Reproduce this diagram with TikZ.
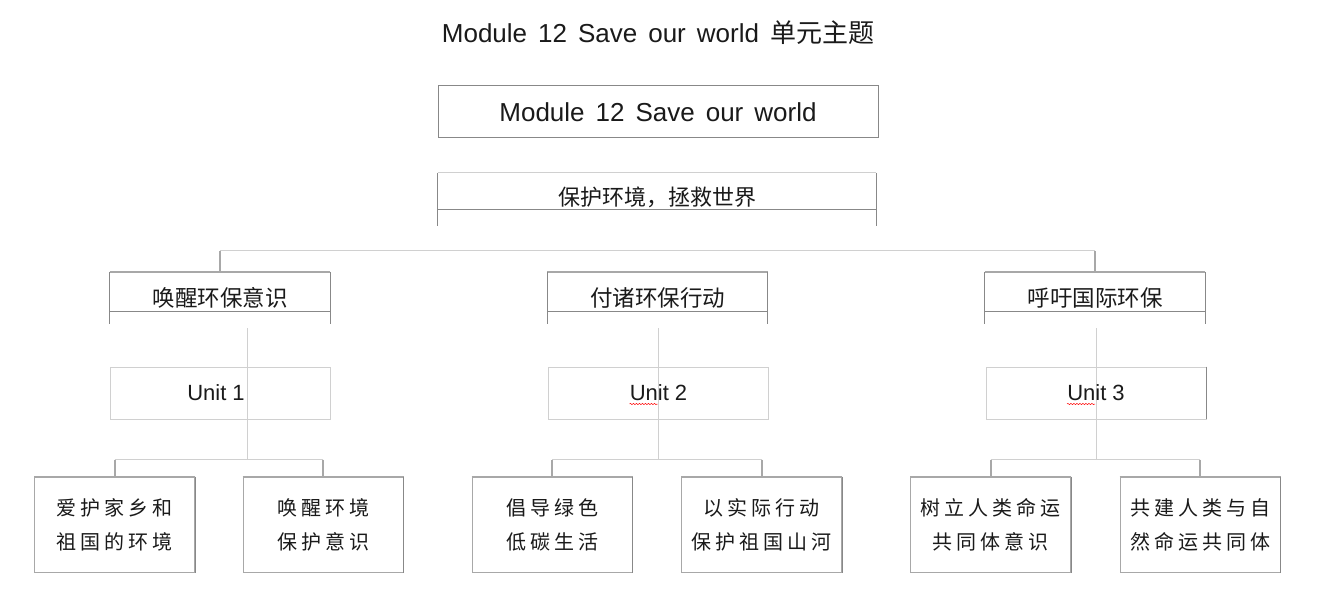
\documentclass[tikz,border=0pt]{standalone}
\usepackage{fontspec}
\setmainfont{Liberation Sans}
\newfontfamily\cjk{Noto Sans CJK SC}
\usetikzlibrary{decorations.pathmorphing}
\definecolor{lineA}{HTML}{D0D0D0}
\definecolor{lineB}{HTML}{A8A8A8}
\definecolor{lineC}{HTML}{888888}
\definecolor{txt}{HTML}{1A1A1A}
\def\lsp#1{\lspaux#1\relax}
\def\lspaux#1#2{#1\ifx#2\relax\else\kern4pt\expandafter\lspaux\expandafter#2\fi}
\newcommand\wsp{\hspace{11pt}}
\tikzset{
  frame/.style={inner sep=0pt, draw=none},
  lvtwo/.style={frame, minimum width=220pt, minimum height=52pt, text=txt, font=\cjk\fontsize{22.5}{26}\selectfont},
  unitbox/.style={frame, minimum width=220pt, minimum height=52pt, draw=lineA, line width=0.8pt, text=txt, font=\fontsize{22}{26}\selectfont},
  leaf/.style={frame, minimum width=160pt, minimum height=95pt, draw=lineB, line width=1pt, align=center, text=txt, font=\cjk\fontsize{20}{34}\selectfont},
  thin/.style={lineA, line width=0.9pt},
  tick/.style={lineB, line width=2pt},
  side/.style={lineC, line width=1pt},
  squiggle/.style={red, line width=0.5pt, decorate, decoration={snake, amplitude=0.6pt, segment length=3pt}}
}
\begin{document}
\begin{tikzpicture}[x=1pt,y=-1pt]
\useasboundingbox (0,0) rectangle (1318,596);
\fill[white] (0,0) rectangle (1318,596);

% title
\node[text=txt, font=\fontsize{26}{30}\selectfont] (title) at (658,33) {Module\wsp 12\wsp Save\wsp our\wsp world\wsp{\cjk 单元主题}};

% module box
\node[frame, draw=lineC, line width=1pt, minimum width=440pt, minimum height=52pt, text=txt, font=\fontsize{26}{30}\selectfont] (module) at (658,112) {Module\wsp 12\wsp Save\wsp our\wsp world};

% theme box
\node[frame, minimum width=438pt, minimum height=53pt] (theme) at (657,199.5) {};
\draw[thin] (theme.north west) -- (theme.north east);
\draw[side] (theme.north west) -- (theme.south west);
\draw[lineC, line width=1.2pt] (theme.north east) -- (theme.south east);
\draw[side] ([yshift=17pt]theme.south west) -- ([yshift=17pt]theme.south east);
\node[text=txt, font=\cjk\fontsize{22}{26}\selectfont] (themetxt) at (657,197) {保护环境，拯救世界};

% level two
\node[lvtwo] (l1) at (220,298) {唤醒环保意识};
\node[lvtwo] (l2) at (657.5,298) {付诸环保行动};
\node[lvtwo] (l3) at (1095,298) {呼吁国际环保};
\foreach \n in {l1,l2,l3}{
  \draw[tick] (\n.north west) -- (\n.north east);
  \draw[side] (\n.north west) -- (\n.south west);
  \draw[side] (\n.north east) -- (\n.south east);
  \draw[side] ([yshift=13pt]\n.south west) -- ([yshift=13pt]\n.south east);
}
\draw[thin] ([yshift=21pt]l1.north) -- ([yshift=21pt]l3.north);
\draw[tick] ([yshift=21pt]l1.north) -- (l1.north);
\draw[tick] ([yshift=21pt]l3.north) -- (l3.north);

% vertical stems
\coordinate (s1t) at (247,328);  \coordinate (s1b) at (247,460);
\coordinate (s2t) at (658,328);  \coordinate (s2b) at (658,460);
\coordinate (s3t) at (1096,328); \coordinate (s3b) at (1096,460);
\draw[thin] (s1t) -- (s1b);
\draw[thin] (s2t) -- (s2b);
\draw[thin] (s3t) -- (s3b);

% unit boxes
\node[unitbox] (u1) at (220,393) {\hspace*{-8pt}Unit 1};
\node[unitbox] (u2) at (658.5,393) {Unit 2};
\node[unitbox] (u3) at (1096,393) {Unit 3};
\draw[lineC, line width=1pt] (u3.north east) -- (u3.south east);
\draw[squiggle] ([xshift=-29pt,yshift=-11pt]u2.center) -- ([xshift=-1pt,yshift=-11pt]u2.center);
\draw[squiggle] ([xshift=-29pt,yshift=-11pt]u3.center) -- ([xshift=-1pt,yshift=-11pt]u3.center);

% leaves
\node[leaf] (a) at (114.5,524.5) {\lsp{爱护家乡和}\\\lsp{祖国的环境}};
\node[leaf] (b) at (323,524.5) {\lsp{唤醒环境}\\\lsp{保护意识}};
\node[leaf] (c) at (552,524.5) {\lsp{倡导绿色}\\\lsp{低碳生活}};
\node[leaf] (d) at (761.5,524.5) {\lsp{以实际行动}\\\lsp{保护祖国山河}};
\node[leaf] (e) at (990.5,524.5) {\lsp{树立人类命运}\\\lsp{共同体意识}};
\node[leaf] (f) at (1200,524.5) {\lsp{共建人类与自}\\\lsp{然命运共同体}};
\foreach \n in {a,b,c,d,e,f}{
  \draw[tick] (\n.north west) -- (\n.north east);
  \draw[side] (\n.north east) -- (\n.south east);
}

% leaf connectors
\draw[thin] ([yshift=17pt]a.north) -- ([yshift=17pt]b.north);
\draw[thin] ([yshift=17pt]c.north) -- ([yshift=17pt]d.north);
\draw[thin] ([yshift=17pt]e.north) -- ([yshift=17pt]f.north);
\foreach \n in {a,b,c,d,e,f}{
  \draw[tick] ([yshift=17pt]\n.north) -- (\n.north);
}
\end{tikzpicture}
\end{document}
